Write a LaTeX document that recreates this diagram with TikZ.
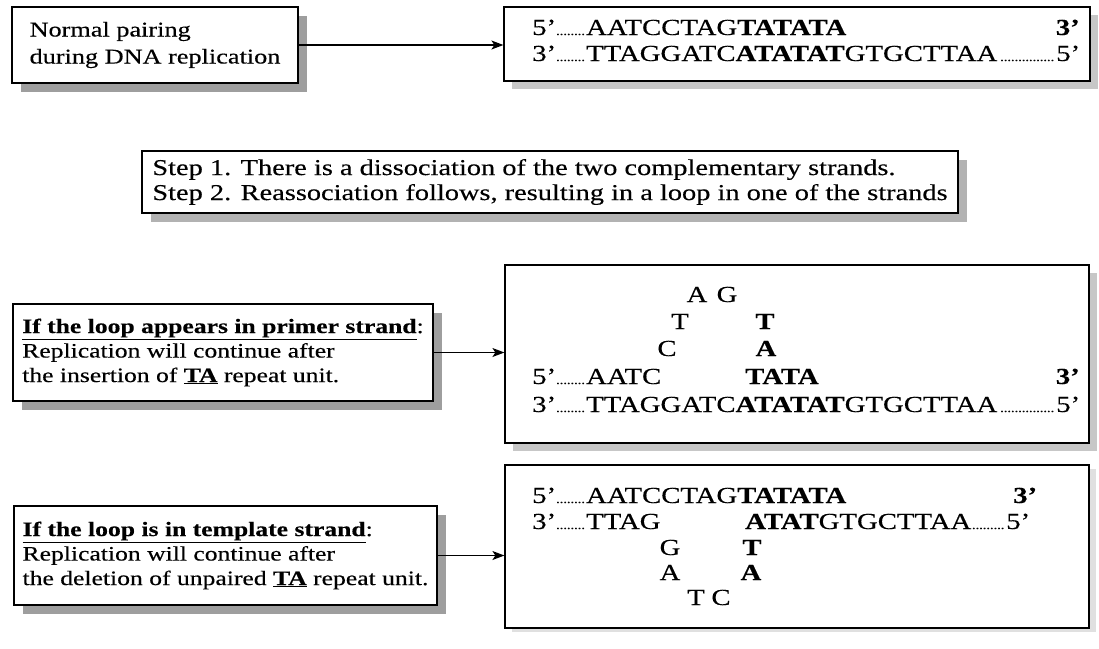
\documentclass[tikz,border=0pt]{standalone}
\usepackage{fontspec}
\setmainfont{Liberation Serif}[FakeStretch=1.25,FakeBold=0.3]
\usetikzlibrary{arrows.meta,shadows}
\newcommand\dnadotsym{\hbox to 3.6pt{\hss\fontsize{12}{12}\selectfont.\hss}}
\newcommand\dnadots[1]{\hbox to #1{\leaders\dnadotsym\hfill}}
\newcommand\dnafill{\leaders\dnadotsym\hfill}
\begin{document}
\begin{tikzpicture}[x=1pt,y=-1pt,
  box/.style={draw, line width=1.2pt, fill=white, inner sep=0pt},
  shadowdark/.style={drop shadow={shadow xshift=9pt, shadow yshift=-9pt, fill=black!38, opacity=1}},
  shadowmid/.style={drop shadow={shadow xshift=9pt, shadow yshift=-9pt, fill=black!30, opacity=1}},
  shadowlight/.style={drop shadow={shadow xshift=8pt, shadow yshift=-8pt, fill=black!22, opacity=1}},
  shadowfaint/.style={drop shadow={shadow xshift=7pt, shadow yshift=-4pt, fill=black!12, opacity=1}},
  lbox/.style={box, align=left, font=\fontsize{20.5}{24.5}\selectfont},
  dna/.style={inner sep=0pt, anchor=base west, font=\fontsize{23}{25}\selectfont},
  lp/.style={inner sep=0pt, anchor=base, font=\fontsize{23}{25}\selectfont},
  conn/.style={line width=1.2pt, -{Stealth[length=12pt,width=9pt,inset=3pt]}}]
\useasboundingbox (0,0) rectangle (1099,648);

% top row
\node[box, shadowdark, minimum width=286pt, minimum height=76pt, align=left,
      font=\fontsize{21}{27}\selectfont] (b1) at (155,45) {Normal pairing\\during DNA replication};
\node[box, shadowlight, minimum width=586pt, minimum height=74pt] (b2) at (797,44) {};
\node[dna] (b2r1) at (532,35) {5’\dnadots{30pt}AATCCTAG\textbf{TATATA}};
\node[dna, anchor=base east] (b2e1) at (1080,35) {\textbf{3’}};
\node[dna] (b2r2) at (532,61) {\hbox to 548pt{3’\dnadots{30pt}TTAGGATC\textbf{ATATAT}GTGCTTAA\dnafill 5’}};

% step box
\node[box, shadowmid, minimum width=816pt, minimum height=62pt, align=left,
      font=\fontsize{22.7}{25}\selectfont] (st) at (550,182)
  {Step 1. There is a dissociation of the two complementary strands.\\
   Step 2. Reassociation follows, resulting in a loop in one of the strands};

% primer strand loop
\node[lbox, shadowdark, minimum width=420pt, minimum height=97pt] (b3) at (223,352.5)
  {\textbf{\underline{If the loop appears in primer strand}}:\\
   Replication will continue after\\
   the insertion of \textbf{\underline{TA}} repeat unit.};
\node[box, shadowlight, minimum width=584pt, minimum height=178pt] (b4) at (797,354) {};
\node[lp] (l4a) at (697,302) {A};
\node[lp] (l4g) at (727,302) {G};
\node[lp] (l4t1) at (680,329) {T};
\node[lp] (l4t2) at (765,329) {\textbf{T}};
\node[lp] (l4c) at (667,356) {C};
\node[lp] (l4a2) at (766,356) {\textbf{A}};
\node[dna] (b4r1) at (532,384) {5’\dnadots{30pt}AATC};
\node[dna] (b4r1b) at (745,384) {\textbf{TATA}};
\node[dna, anchor=base east] (b4e1) at (1080,384) {\textbf{3’}};
\node[dna] (b4r2) at (532,412) {\hbox to 548pt{3’\dnadots{30pt}TTAGGATC\textbf{ATATAT}GTGCTTAA\dnafill 5’}};

% template strand loop
\node[lbox, shadowdark, minimum width=423pt, minimum height=99pt] (b5) at (225.5,555.5)
  {\textbf{\underline{If the loop is in template strand}}:\\
   Replication will continue after\\
   the deletion of unpaired \textbf{\underline{TA}} repeat unit.};
\node[box, shadowfaint, minimum width=584pt, minimum height=163pt] (b6) at (797,546.5) {};
\node[dna] (b6r1) at (532,503) {5’\dnadots{30pt}AATCCTAG\textbf{TATATA}};
\node[dna] (b6e1) at (1013,503) {\textbf{3’}};
\node[dna] (b6r2a) at (532,529) {3’\dnadots{30pt}TTAG};
\node[dna] (b6r2b) at (745,529) {\hbox to 285pt{\textbf{ATAT}GTGCTTAA\dnafill 5’}};
\node[lp] (l6g) at (670,555) {G};
\node[lp] (l6t) at (752,555) {\textbf{T}};
\node[lp] (l6a) at (670,580) {A};
\node[lp] (l6a2) at (751,580) {\textbf{A}};
\node[lp] (l6t2) at (696,605) {T};
\node[lp] (l6c) at (721,605) {C};

% connectors
\draw[conn] (b1.east) -- (b1.east -| b2.west);
\draw[conn] (b3.east) -- (b3.east -| b4.west);
\draw[conn] (b5.east) -- (b5.east -| b6.west);
\end{tikzpicture}
\end{document}
